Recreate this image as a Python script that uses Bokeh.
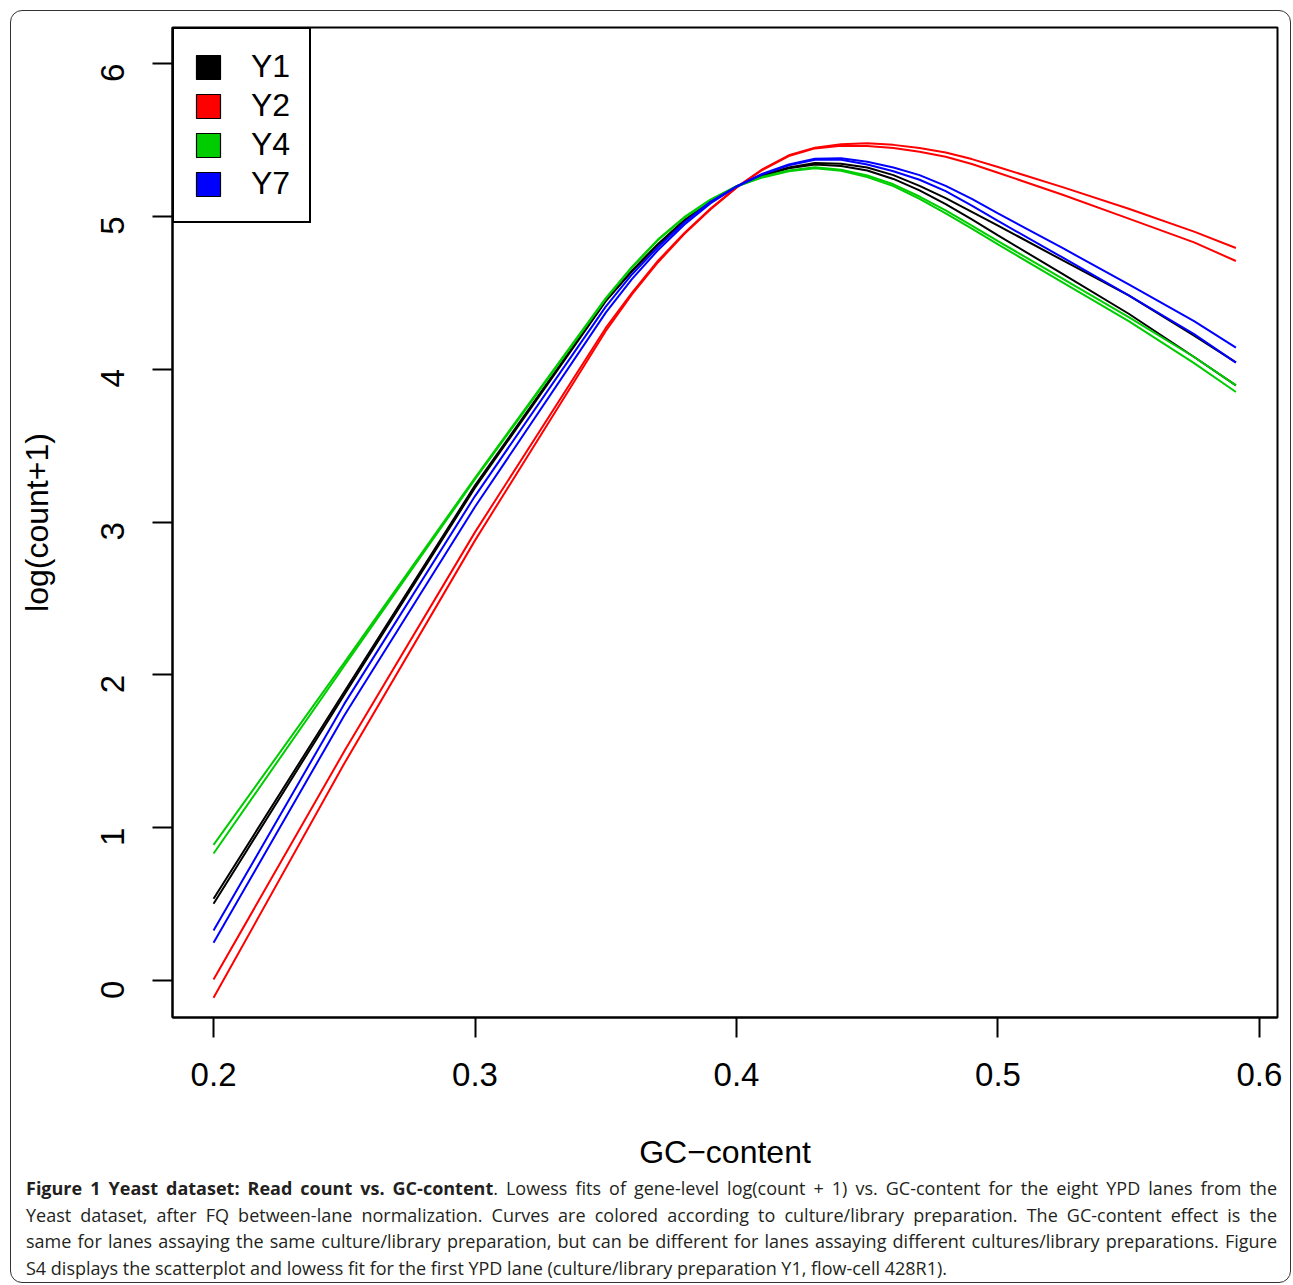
import math
from bokeh.plotting import figure
from bokeh.layouts import column
from bokeh.models import Range1d, FixedTicker, Legend, LegendItem, Div
from bokeh.embed import file_html
from bokeh.resources import INLINE

NaN = float("nan")

# ---- data ----
gc = [0.2, 0.25, 0.3, 0.35, 0.36, 0.37, 0.38, 0.39, 0.4, 0.41, 0.42, 0.43,
      0.44, 0.45, 0.46, 0.47, 0.48, 0.49, 0.5, 0.525, 0.55, 0.575, 0.591]

y1_a = [0.535, 1.89, 3.24, 4.45, 4.645, 4.82, 4.975, 5.10, 5.197, 5.27, 5.32, 5.35,
        5.345, 5.32, 5.27, 5.20, 5.12, 5.03, 4.94, 4.71, 4.483, 4.22, 4.045]
y1_b = [0.502, 1.87, 3.225, 4.445, 4.64, 4.815, 4.97, 5.095, 5.195, 5.265, 5.315, 5.34,
        5.33, 5.30, 5.245, 5.17, 5.08, 4.98, 4.876, 4.62, 4.363, 4.08, 3.894]
y2_a = [0.007, 1.50, 2.934, 4.27, 4.50, 4.71, 4.89, 5.05, 5.19, 5.31, 5.40, 5.45,
        5.472, 5.478, 5.468, 5.448, 5.418, 5.375, 5.323, 5.19, 5.05, 4.90, 4.793]
y2_b = [-0.113, 1.42, 2.88, 4.25, 4.49, 4.70, 4.885, 5.045, 5.188, 5.305, 5.395, 5.445,
        5.462, 5.46, 5.447, 5.423, 5.39, 5.343, 5.286, 5.14, 4.985, 4.83, 4.708]
y4_a = [0.888, 2.08, 3.29, 4.465, 4.67, 4.85, 4.995, 5.11, 5.198, 5.26, 5.30, 5.322,
        5.305, 5.268, 5.21, 5.13, 5.04, 4.94, 4.838, 4.59, 4.341, 4.08, 3.894]
y4_b = [0.831, 2.06, 3.28, 4.46, 4.665, 4.845, 4.99, 5.105, 5.196, 5.255, 5.295, 5.315,
        5.298, 5.257, 5.198, 5.115, 5.02, 4.92, 4.817, 4.565, 4.315, 4.04, 3.851]
y7_a = [0.327, 1.81, 3.17, 4.41, 4.62, 4.80, 4.96, 5.095, 5.196, 5.28, 5.34, 5.377,
        5.38, 5.358, 5.32, 5.27, 5.20, 5.115, 5.02, 4.79, 4.555, 4.315, 4.141]
y7_b = [0.247, 1.734, 3.10, 4.37, 4.59, 4.78, 4.945, 5.085, 5.194, 5.275, 5.335, 5.37,
        5.37, 5.34, 5.295, 5.24, 5.165, 5.07, 4.97, 4.728, 4.483, 4.23, 4.043]

groups = ["Y1", "Y2", "Y4", "Y7"]
colors = ["#000000", "#FF0000", "#00CD00", "#0000FF"]
lanes = {"Y1": [y1_a, y1_b], "Y2": [y2_a, y2_b], "Y4": [y4_a, y4_b], "Y7": [y7_a, y7_b]}

x_ticks = [0.2, 0.3, 0.4, 0.5, 0.6]
y_ticks = [0, 1, 2, 3, 4, 5, 6]

caption_bold = "Figure 1 Yeast dataset: Read count vs. GC-content"
caption_lines = [
    ". Lowess fits of gene-level log(count + 1) vs. GC-content for the eight YPD lanes from the",
    "Yeast dataset, after FQ between-lane normalization. Curves are colored according to culture/library preparation. The GC-content effect is the",
    "same for lanes assaying the same culture/library preparation, but can be different for lanes assaying different cultures/library preparations. Figure",
    "S4 displays the scatterplot and lowess fit for the first YPD lane (culture/library preparation Y1, flow-cell 428R1).",
]

# ---- layout (pixels) ----
W, H = 1285, 1277
HP = 1175                                   # height of the chart part
FL, FR, FT, FB = 172, 1277, 27, 1017        # frame edges
X0, X1 = 0.1843, 0.6069
Y0, Y1 = -0.242, 6.236

p = figure(width=W, height=HP, output_backend="svg", toolbar_location=None,
           x_range=Range1d(X0, X1), y_range=Range1d(Y0, Y1),
           min_border_left=FL, min_border_right=W - FR, min_border_top=FT,
           min_border_bottom=HP - FB)
p.xgrid.visible = False
p.ygrid.visible = False
p.outline_line_color = "black"
p.outline_line_width = 2
p.outline_line_alpha = 1
p.background_fill_color = "white"
p.border_fill_color = "white"

for ax in (p.xaxis[0], p.yaxis[0]):
    ax.axis_line_width = 2
    ax.major_tick_line_width = 2
    ax.major_tick_out = 20
    ax.major_tick_in = 0
    ax.minor_tick_out = 0
    ax.minor_tick_in = 0
    ax.major_label_text_font = "Liberation Sans"
    ax.major_label_text_font_size = "33px"
    ax.major_label_text_color = "black"
    ax.axis_label_text_font = "Liberation Sans"
    ax.axis_label_text_font_size = "32px"
    ax.axis_label_text_font_style = "normal"
    ax.axis_label_text_color = "black"

p.xaxis.ticker = FixedTicker(ticks=x_ticks)
p.yaxis.ticker = FixedTicker(ticks=y_ticks)
p.xaxis.axis_label = "GC\u2212content"
p.yaxis.axis_label = "log(count+1)"
p.xaxis.major_label_standoff = 25
p.xaxis.axis_label_standoff = 45
p.yaxis.major_label_orientation = math.pi / 2
p.yaxis.major_label_standoff = 40
p.yaxis.axis_label_standoff = 32

for g, c in zip(groups, colors):
    for ys in lanes[g]:
        p.line(x=gc, y=ys, line_color=c, line_width=2)

items = []
for g, c in zip(groups, colors):
    r = p.quad(left=[NaN], right=[NaN], top=[NaN], bottom=[NaN], fill_color=c,
               line_color="black", line_width=1.2)
    items.append(LegendItem(label=g, renderers=[r]))

leg = Legend(items=items, location="top_left", margin=0, padding=19,
             spacing=2, glyph_width=30, glyph_height=30, label_standoff=28,
             label_text_font="Liberation Sans", label_text_font_size="32px",
             label_text_color="black", label_text_baseline="middle",
             border_line_color="black", border_line_width=2, border_line_alpha=1,
             background_fill_color="white", background_fill_alpha=1.0)
p.add_layout(leg)

# ---- caption (real HTML text, justified like the reference) ----
# the Div content sits 5px right/down of the Div's corner; compensate below
just = "text-align:justify;text-align-last:justify;white-space:nowrap;"
left = "text-align:left;white-space:nowrap;"
frame_box = ("position:absolute;left:5px;top:-%dpx;width:1281px;height:1273px;"
             "border:1.5px solid #333333;border-radius:12px;box-sizing:border-box;"
             "pointer-events:none;" % (HP - 5))
html = (
    '<div style="position:relative;width:%dpx;">' % W
    + '<div style="%s"></div>' % frame_box
    + '<div style="position:relative;top:-5px;font-family:\'Open Sans\';'
      'font-size:18px;line-height:26.5px;color:#231f20;'
      'padding:0 13px 0 21px;box-sizing:border-box;width:%dpx;">' % W
    + '<div style="%s"><b>%s</b>%s</div>' % (just, caption_bold, caption_lines[0])
    + '<div style="%s">%s</div>' % (just, caption_lines[1])
    + '<div style="%s">%s</div>' % (just, caption_lines[2])
    + '<div style="%s">%s</div>' % (left, caption_lines[3])
    + '</div></div>'
)
cap = Div(text=html, width=W, height=H - HP, styles={"overflow": "visible"})

page = column(p, cap, spacing=0)

open("out.html", "w").write(file_html(page, INLINE))
